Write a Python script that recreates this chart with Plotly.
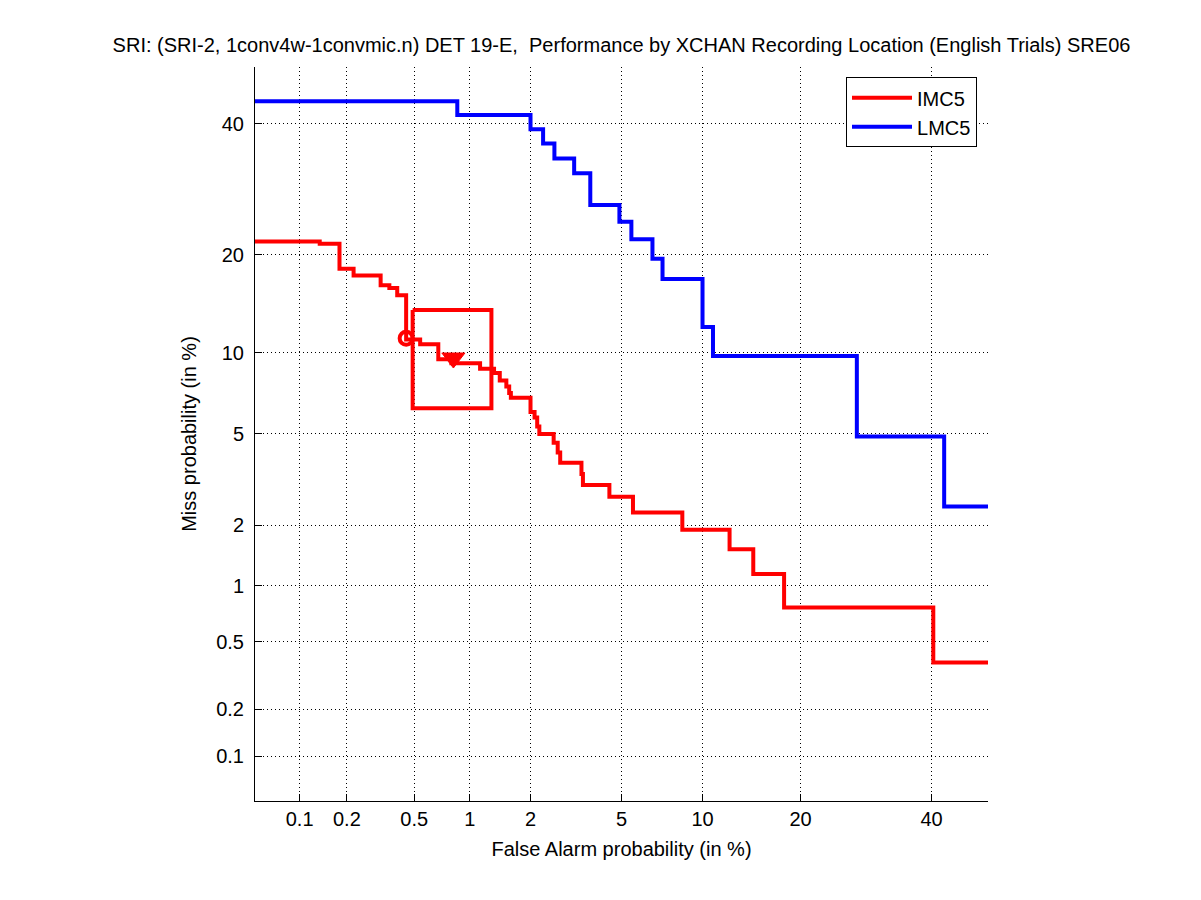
import plotly.graph_objects as go
from statistics import NormalDist

# ---- data (percent) ----
TICK_VALUES = [0.1, 0.2, 0.5, 1, 2, 5, 10, 20, 40]
TICK_LABELS = ["0.1", "0.2", "0.5", "1", "2", "5", "10", "20", "40"]
AXIS_LIMITS = [0.05, 50]

IMC5_FA = [0.05, 0.135, 0.18, 0.22, 0.32, 0.36, 0.40, 0.45, 0.54, 0.68, 0.80, 1.13,
           1.33, 1.42, 1.53, 1.58, 1.61, 2.0, 2.09, 2.15, 2.2, 2.56, 2.67, 2.74,
           3.4, 3.45, 4.46, 5.55, 8.5, 12.3, 14.6, 18.0, 40.3, 50]
IMC5_MISS = [21.7, 21.4, 18.3, 17.5, 16.4, 16.1, 15.3, 11.1, 10.7, 9.5, 9.2, 8.8,
             8.5, 8.0, 7.6, 7.2, 6.9, 6.1, 5.8, 5.35, 5.0, 4.6, 4.2, 3.8,
             3.4, 3.05, 2.7, 2.29, 1.9, 1.53, 1.15, 0.77, 0.38, 0.38]

LMC5_FA = [0.05, 0.86, 2.0, 2.29, 2.58, 3.16, 3.71, 4.9, 5.47, 6.6, 7.2, 10.0,
           10.85, 27.8, 42.2, 50]
LMC5_MISS = [43.9, 41.5, 39.0, 36.6, 34.1, 31.7, 26.8, 24.4, 22.0, 19.5, 17.1, 12.2,
             9.76, 4.88, 2.44, 2.44]

ACT_DCF = (0.45, 11.2)      # circle
MIN_DCF = (0.82, 9.6)       # triangle
BOX_FA = [0.49, 1.29, 1.29, 0.49, 0.49]
BOX_MISS = [13.8, 13.8, 6.3, 6.3, 13.8]

ND = NormalDist()


def probit(vals):
    return [ND.inv_cdf(v / 100.0) for v in vals]


RED = "#ff0000"
BLUE = "#0000ff"

fig = go.Figure()
fig.add_trace(go.Scatter(x=probit(IMC5_FA), y=probit(IMC5_MISS), mode="lines",
                         line=dict(color=RED, width=4, shape="hv"), name="IMC5"))
fig.add_trace(go.Scatter(x=probit(LMC5_FA), y=probit(LMC5_MISS), mode="lines",
                         line=dict(color=BLUE, width=4, shape="hv"), name="LMC5"))
fig.add_trace(go.Scatter(x=probit(BOX_FA), y=probit(BOX_MISS), mode="lines",
                         line=dict(color=RED, width=4), showlegend=False))
fig.add_trace(go.Scatter(x=probit([ACT_DCF[0]]), y=probit([ACT_DCF[1]]), mode="markers",
                         marker=dict(symbol="circle-open", size=13, color=RED,
                                     line=dict(width=4, color=RED)), showlegend=False))
fig.add_trace(go.Scatter(x=probit([MIN_DCF[0]]), y=probit([MIN_DCF[1]]), mode="markers",
                         marker=dict(symbol="triangle-down", size=20, color=RED,
                                     line=dict(width=1, color=RED)), showlegend=False))

FAMILY = "Liberation Sans, Arial, sans-serif"
tick_font = dict(family=FAMILY, size=20, color="black")
label_font = dict(family=FAMILY, size=20, color="black")
axis_common = dict(
    range=probit(AXIS_LIMITS),
    tickmode="array",
    tickvals=probit(TICK_VALUES),
    ticktext=TICK_LABELS,
    showgrid=True, gridcolor="black", griddash="1px,3px", gridwidth=1,
    zeroline=False,
    showline=True, linecolor="black", linewidth=1, mirror=False,
    ticks="inside", ticklen=7, tickcolor="black",
    tickfont=tick_font,
)

fig.update_layout(
    width=1201, height=900,
    margin=dict(l=247, r=221, t=59, b=107),
    paper_bgcolor="white", plot_bgcolor="white",
    font=label_font,
    title=dict(text="SRI: (SRI-2, 1conv4w-1convmic.n) DET 19-E,  Performance by XCHAN Recording Location (English Trials) SRE06",
               x=0.5, xref="paper", xanchor="center", y=1 - 37 / 900, yanchor="middle",
               font=label_font),
    xaxis=dict(title=dict(text="False Alarm probability (in %)", font=label_font, standoff=12),
               ticklabelstandoff=0, **axis_common),
    yaxis=dict(title=dict(text="Miss probability (in %)", font=label_font, standoff=14),
               ticklabelstandoff=6, **axis_common),
    legend=dict(x=0.985, y=0.986, xanchor="right", yanchor="top",
                bgcolor="white", bordercolor="black", borderwidth=1,
                font=tick_font, tracegroupgap=0, itemwidth=60),
    showlegend=True,
)

fig.write_html("out.html")
